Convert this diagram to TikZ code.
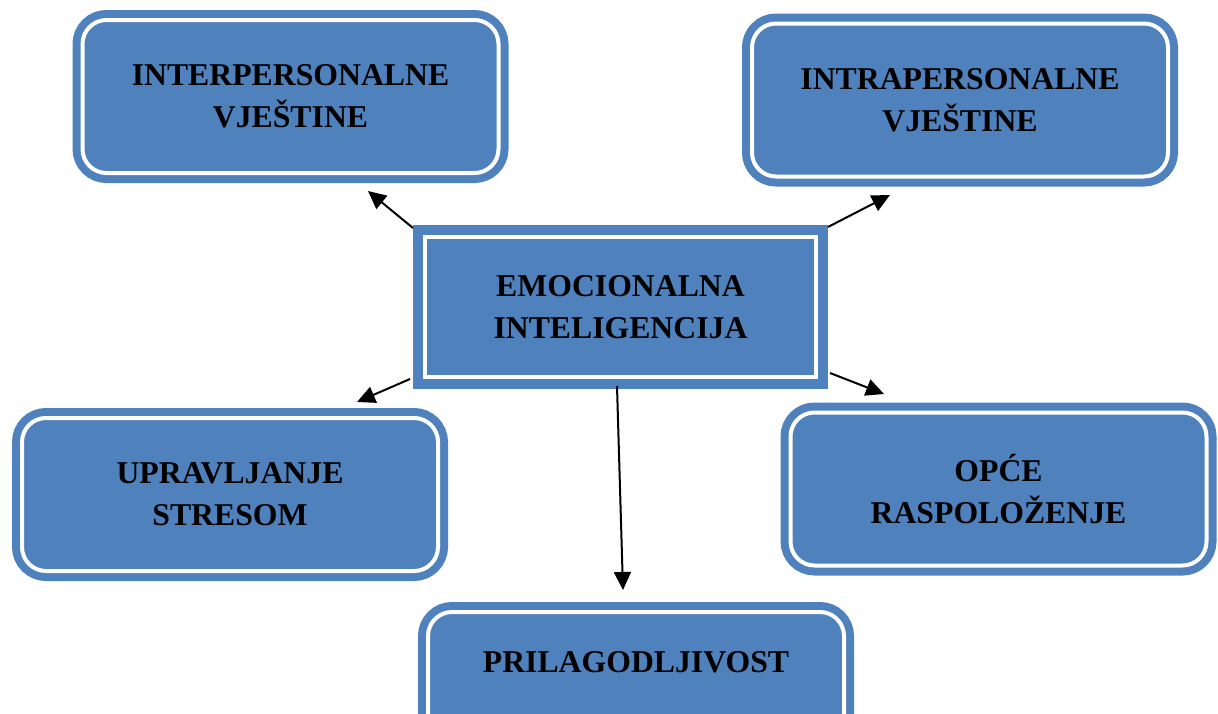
\documentclass[tikz,border=0pt]{standalone}
\usepackage{fontspec}
\setmainfont{Liberation Serif}
\usetikzlibrary{arrows.meta}
\definecolor{boxblue}{HTML}{4F81BD}
\tikzset{
  skill/.style={rectangle, rounded corners=18pt, fill=boxblue, draw=boxblue,
    line width=6pt, double=white, double distance=3pt,
    minimum width=312pt, minimum height=114.75pt, inner sep=0pt,
    align=center, font=\fontsize{23.8}{31.5}\selectfont\bfseries, text=black},
  core/.style={rectangle, fill=boxblue, draw=boxblue,
    line width=7.5pt, double=white, double distance=3pt,
    minimum width=293.25pt, minimum height=105pt, inner sep=0pt,
    align=center, font=\fontsize{23.8}{31.5}\selectfont\bfseries, text=black},
  arr/.style={line width=1.5pt, -{Triangle[length=13.5pt,width=12.75pt]}}
}
\begin{document}
\begin{tikzpicture}[x=0.75pt,y=-0.75pt]
\useasboundingbox (0,0) rectangle (1218,714);
\clip (0,0) rectangle (1218,714);
\node[skill] (inter) at (290.5,96.5) {INTERPERSONALNE\\VJEŠTINE};
\node[skill] (intra) at (960,100) {INTRAPERSONALNE\\VJEŠTINE};
\node[core] (ei) at (620.5,307) {EMOCIONALNA\\INTELIGENCIJA};
\node[skill] (stres) at (230,494.5) {UPRAVLJANJE\\STRESOM};
\node[skill] (opce) at (998.5,489) {OPĆE\\RASPOLOŽENJE};
\node[skill, text height=16.5pt, text depth=41.25pt] (pril) at (636,688.5) {PRILAGODLJIVOST};
\coordinate (s1) at (413,228); \coordinate (t1) at (368,191);
\coordinate (s2) at (828,227); \coordinate (t2) at (890,195);
\coordinate (s4) at (410,379); \coordinate (t4) at (357,402);
\coordinate (s5) at (830,373); \coordinate (t5) at (884,394);
\coordinate (s6) at (617,386); \coordinate (t6) at (623,590);
\draw[arr] (s1) -- (t1);
\draw[arr] (s2) -- (t2);
\draw[arr] (s4) -- (t4);
\draw[arr] (s5) -- (t5);
\draw[arr] (s6) -- (t6);
\end{tikzpicture}
\end{document}
